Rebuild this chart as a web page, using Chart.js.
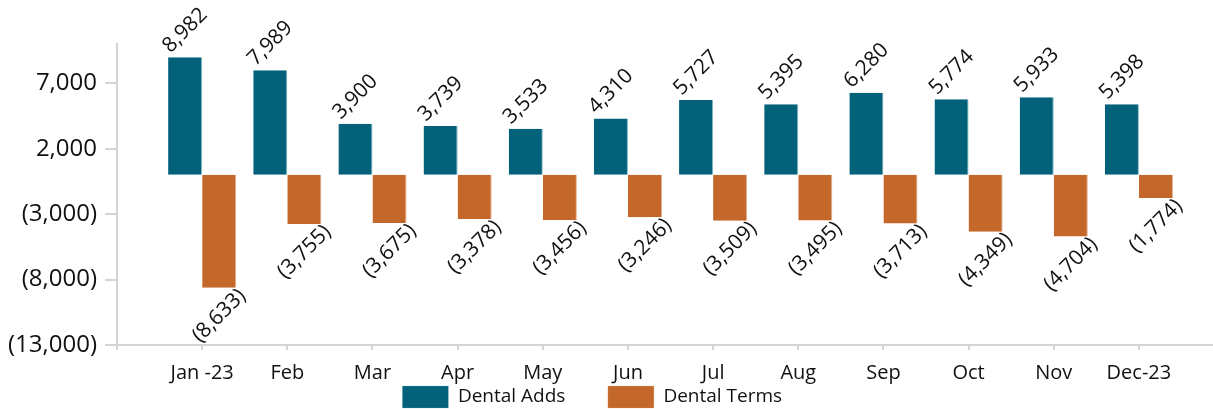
<!DOCTYPE html>
<html>
<head>
<meta charset="utf-8">
<script src="https://cdn.jsdelivr.net/npm/chart.js@4"></script>
<style>
  html, body { margin: 0; padding: 0; background: #fff; overflow: hidden; }
  #wrap { width: 1213px; height: 409px; }
</style>
</head>
<body>
<div id="wrap"><canvas id="adds"></canvas></div>
<script>
const months = ['Jan -23', 'Feb', 'Mar', 'Apr', 'May', 'Jun', 'Jul', 'Aug', 'Sep', 'Oct', 'Nov', 'Dec-23'];
const dentalAdds = [8982, 7989, 3900, 3739, 3533, 4310, 5727, 5395, 6280, 5774, 5933, 5398];
const dentalTerms = [-8633, -3755, -3675, -3378, -3456, -3246, -3509, -3495, -3713, -4349, -4704, -1774];
const yTicks = [-13000, -8000, -3000, 2000, 7000];

const fontFamily = '"Open Sans", "Noto Sans", sans-serif';

function fmt(v) {
  const s = Math.abs(v).toLocaleString('en-US');
  return v < 0 ? `(${s})` : s;
}

// rotated value labels above / below each bar
const barLabels = {
  id: 'barLabels',
  afterDatasetsDraw(chart) {
    const ctx = chart.ctx;
    ctx.save();
    ctx.font = `21px ${fontFamily}`;
    ctx.fillStyle = '#111';
    ctx.textAlign = 'center';
    ctx.textBaseline = 'middle';
    chart.data.datasets.forEach((ds, i) => {
      chart.getDatasetMeta(i).data.forEach((bar, j) => {
        const v = ds.data[j].y;
        const y = v < 0 ? bar.y + 28 : bar.y - 27;
        ctx.save();
        ctx.translate(bar.x, y);
        ctx.rotate(-Math.PI / 4);
        ctx.fillText(fmt(v), 0, 0);
        ctx.restore();
      });
    });
    ctx.restore();
  }
};

new Chart(document.getElementById('adds'), {
  type: 'bar',
  data: {
    datasets: [{
      label: 'Dental Adds',
      data: dentalAdds.map((v, i) => ({x: i + 1, y: v})),
      backgroundColor: '#03627a',
      borderColor: '#7fb6c4',
      borderWidth: {right: 1},
      categoryPercentage: 0.8,
      barPercentage: 1,
    }, {
      label: 'Dental Terms',
      data: dentalTerms.map((v, i) => ({x: i + 1, y: v})),
      backgroundColor: '#c4672a',
      borderColor: '#e3b08e',
      borderWidth: {right: 1},
      categoryPercentage: 0.8,
      barPercentage: 1,
    }]
  },
  options: {
    responsive: true,
    maintainAspectRatio: false,
    animation: false,
    layout: {
      padding: {top: 44, left: 0, right: 0, bottom: -9},
    },
    scales: {
      x: {
        type: 'linear',
        offset: false,
        min: 0,
        max: 12.87,
        afterBuildTicks: (scale) => {
          scale.ticks = months.map((m, i) => ({value: i})).concat([{value: 12}]);
        },
        afterFit: (scale) => { scale.height = 40; },
        grid: {
          offset: false,
          drawOnChartArea: false,
          color: '#d4d4d4',
          lineWidth: 2,
          tickLength: 5,
        },
        border: {color: '#d4d4d4', width: 2},
        ticks: {
          autoSkip: false,
          maxRotation: 0,
          padding: 11,
          color: '#111',
          font: {family: fontFamily, size: 20},
          callback: (v) => (v >= 1 && v <= 12 ? months[v - 1] : ''),
        },
      },
      y: {
        min: -13000,
        max: 10000,
        afterBuildTicks: (scale) => {
          scale.ticks = yTicks.map((v) => ({value: v}));
        },
        afterFit: (scale) => { scale.width = 117; },
        grid: {
          drawOnChartArea: false,
          color: '#d4d4d4',
          lineWidth: 2,
          tickLength: 12,
        },
        border: {color: '#d4d4d4', width: 2},
        ticks: {
          padding: 8,
          color: '#111',
          font: {family: fontFamily, size: 24},
          callback: (v) => fmt(v),
        },
      },
    },
    plugins: {
      legend: {
        position: 'bottom',
        labels: {
          boxWidth: 46,
          boxHeight: 22,
          padding: 1,
          color: '#111',
          font: {family: fontFamily, size: 19},
          // widen the gap between the two entries
          generateLabels: (chart) => {
            const items = Chart.defaults.plugins.legend.labels.generateLabels(chart);
            items.forEach((it, i) => {
              it.text = i === 0 ? it.text + '\u2003\u2002  \u2009' : it.text + '\u2003\u2002';
            });
            return items;
          },
        },
      },
      tooltip: {enabled: false},
    },
  },
  plugins: [barLabels],
});
</script>
</body>
</html>
